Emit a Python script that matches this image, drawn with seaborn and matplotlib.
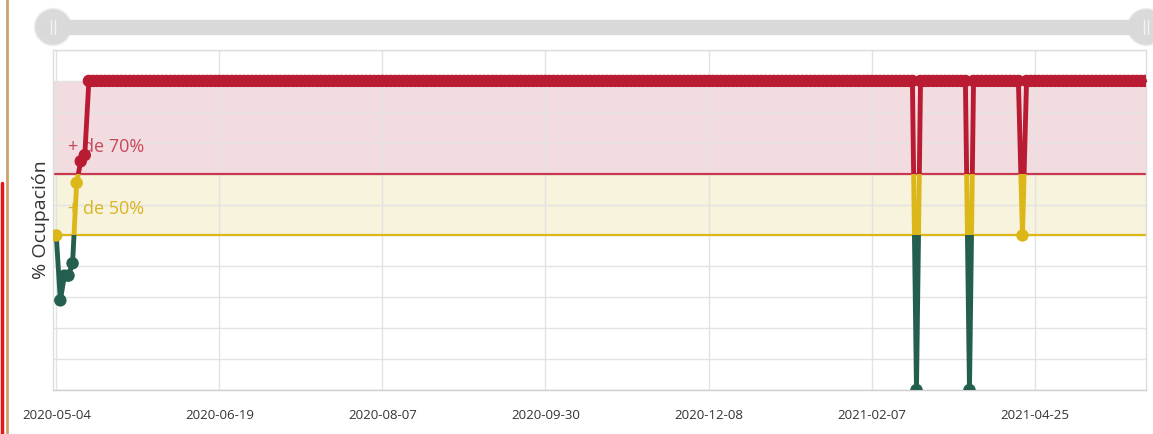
import matplotlib
matplotlib.use("Agg")
import matplotlib.pyplot as plt
import seaborn as sns
import numpy as np
import pandas as pd
from matplotlib.patches import Rectangle, Circle
from matplotlib.lines import Line2D

# ---- data ----
tick_labels = ["2020-05-04", "2020-06-19", "2020-08-07", "2020-09-30",
               "2020-12-08", "2021-02-07", "2021-04-25"]
points_per_tick = 40

start_values = [50, 29, 37, 37, 41, 67, 74, 76]
run_levels = [100, 0, 100, 0, 100, 50, 100]
run_lengths = [203, 1, 12, 1, 12, 1, 30]

band_labels = ["+ de 70%", "+ de 50%"]
band_limits = [(70, 100), (50, 70)]

values = list(start_values)
for level, n in zip(run_levels, run_lengths):
    values += [level] * n

df = pd.DataFrame({"idx": np.arange(len(values)), "pct": values})

GREEN = "#245e4f"
YELLOW = "#dcb719"
RED = "#b91b32"


def zone(v):
    if v < 50:
        return "low"
    if v < 70:
        return "mid"
    return "high"


df["zone"] = df["pct"].apply(zone)
palette = {"low": GREEN, "mid": YELLOW, "high": RED}

sns.set_theme(style="white")
plt.rcParams["font.family"] = ["Open Sans", "DejaVu Sans"]

fig = plt.figure(figsize=(11.53, 4.34), dpi=100)
ax = fig.add_axes([53 / 1153, 1 - 390 / 434, (1146 - 53) / 1153, 340 / 434])

# bands
ax.axhspan(70, 100, color="#f3dce0", zorder=0, lw=0)
ax.axhspan(50, 70, color="#f8f3dc", zorder=0, lw=0)
ax.axhline(70, color="#c8394f", lw=1.6, zorder=1)
ax.axhline(50, color="#dcb719", lw=1.6, zorder=1)

# line, coloured by zone via clipping
xmin, xmax = -0.8, 267.3
zones = [(0, 50, GREEN), (50, 70, YELLOW), (70, 200, RED)]
for lo, hi, col in zones:
    sns.lineplot(data=df, x="idx", y="pct", ax=ax, color=col, lw=3.5,
                 zorder=3, legend=False)
    line = ax.lines[-1]
    clip = Rectangle((xmin - 5, lo), xmax - xmin + 10, hi - lo,
                     transform=ax.transData)
    line.set_clip_path(clip)

pts = sns.scatterplot(data=df, x="idx", y="pct", hue="zone", palette=palette,
                      s=66, ax=ax, zorder=4, legend=False)
coll = ax.collections[-1]
coll.set_edgecolors(coll.get_facecolors())
coll.set_linewidths(0.8)

# band labels
for (lo, hi), lab, col, yy in zip(band_limits, band_labels,
                                  ["#c9475b", "#d9b425"], [78.5, 58.5]):
    ax.text(3, yy, lab, color=col, fontsize=13, va="center", ha="left",
            zorder=2)

ax.set_xlim(xmin, xmax)
ax.set_ylim(0, 110)
ax.set_yticks(np.arange(0, 111, 10))
ax.set_yticklabels([])
ax.tick_params(axis="y", length=0)
ticks = np.arange(len(tick_labels)) * points_per_tick
ax.set_xticks(ticks)
ax.set_xticklabels(tick_labels, fontsize=9.5, color="#333333")
ax.tick_params(axis="x", length=0, pad=14)
ax.grid(True, color="#e3e3e3", lw=1)
ax.set_xlabel("")
ax.set_ylabel("% Ocupación", fontsize=14, color="#333333", labelpad=-1.5)
for s in ax.spines.values():
    s.set_color("#dddddd")
    s.set_linewidth(1)
ax.spines["bottom"].set_color("#cfcfcf")

# slider / page decorations in pixel coords
ov = fig.add_axes([0, 0, 1, 1], zorder=5)
ov.set_xlim(0, 1153)
ov.set_ylim(434, 0)
ov.axis("off")
ov.add_line(Line2D([40, 1153], [27, 27], lw=11, color="#d9d9d9",
                   solid_capstyle="butt"))
for cx in [53, 1146]:
    ov.add_patch(Circle((cx, 27), 18.5, facecolor="#dadada",
                        edgecolor="#eeeeee", lw=1))
    for dx in [-2, 2]:
        ov.add_line(Line2D([cx + dx, cx + dx], [20, 34], lw=1,
                           color="#f4f4f4"))
ov.add_line(Line2D([7, 7], [0, 434], lw=2, color="#c9a46b"))
ov.add_line(Line2D([1.5, 1.5], [183, 434], lw=2.5, color="#e8161b"))

fig.savefig("out.png", dpi=100)
